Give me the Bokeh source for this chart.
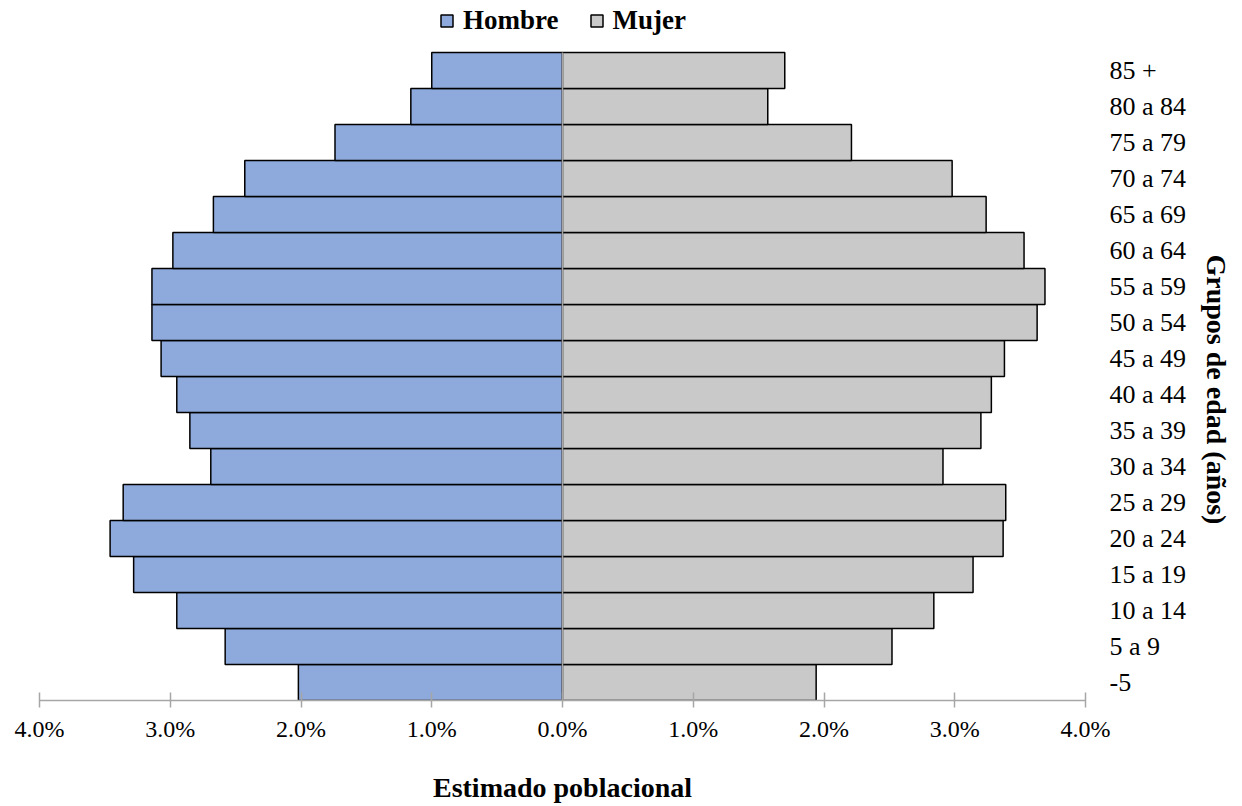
from bokeh.plotting import figure
from bokeh.models import (Range1d, LinearAxis, FixedTicker, CustomJSTickFormatter,
                          Legend, LegendItem, ColumnDataSource, Title)
from bokeh.embed import file_html
from bokeh.resources import INLINE

groups = ["-5", "5 a 9", "10 a 14", "15 a 19", "20 a 24", "25 a 29", "30 a 34",
          "35 a 39", "40 a 44", "45 a 49", "50 a 54", "55 a 59", "60 a 64",
          "65 a 69", "70 a 74", "75 a 79", "80 a 84", "85 +"]
hombre = [2.02, 2.58, 2.95, 3.28, 3.46, 3.36, 2.69, 2.85, 2.95, 3.07, 3.14,
          3.14, 2.98, 2.67, 2.43, 1.74, 1.16, 1.00]
mujer = [1.94, 2.52, 2.84, 3.14, 3.37, 3.39, 2.91, 3.20, 3.28, 3.38, 3.63,
         3.69, 3.53, 3.24, 2.98, 2.21, 1.57, 1.70]
x_ticks = [-4, -3, -2, -1, 0, 1, 2, 3, 4]

FONT = "Liberation Serif"

pos = list(range(len(groups)))
src = ColumnDataSource(dict(y=pos, h=[-v for v in hombre], m=mujer,
                            z=[0] * len(groups)))

W, H = 1242, 806
FL, FR, FT, FB = 39, 1085, 0, 700          # frame edges in pixels
row_px = (FB - 52) / len(groups)            # bars occupy 52..700
top_extra = (52 - FT) / row_px

p = figure(width=W, height=H, x_range=(-4, 4),
           y_range=Range1d(-0.5, len(groups) - 0.5 + top_extra),
           output_backend="svg", toolbar_location=None,
           x_axis_location=None, y_axis_location=None,
           min_border_left=FL, min_border_right=W - FR, min_border_top=FT,
           min_border_bottom=H - FB)
p.outline_line_color = None
p.grid.visible = False
p.background_fill_color = "white"

rh = p.hbar(y="y", left="h", right="z", height=1.0, source=src,
            fill_color="#8EA9DB", line_color="black", line_width=1.5)
rm = p.hbar(y="y", left="z", right="m", height=1.0, source=src,
            fill_color="#C9C9C9", line_color="black", line_width=1.5)

# zero line spanning the bars only
p.segment(x0=[0], x1=[0], y0=[pos[0] - 0.5], y1=[pos[-1] + 0.5],
          line_color="#A6A6A6", line_width=1.5)

xa = LinearAxis(ticker=FixedTicker(ticks=x_ticks),
                formatter=CustomJSTickFormatter(code="return Math.abs(tick).toFixed(1) + '%';"))
xa.axis_line_color = "#A6A6A6"
xa.axis_line_width = 1.5
xa.major_tick_line_color = "#A6A6A6"
xa.major_tick_line_width = 1.5
xa.major_tick_in = 8
xa.major_tick_out = 7
xa.minor_tick_line_color = None
xa.major_label_text_font = FONT
xa.major_label_text_font_size = "24px"
xa.major_label_text_color = "black"
xa.major_label_standoff = 8
xa.axis_label = "Estimado poblacional"
xa.axis_label_text_font = FONT
xa.axis_label_text_font_style = "bold"
xa.axis_label_text_font_size = "28px"
xa.axis_label_text_color = "black"
xa.axis_label_standoff = 27
p.add_layout(xa, "below")

ya = LinearAxis(ticker=FixedTicker(ticks=pos),
                major_label_overrides={i: g for i, g in zip(pos, groups)})
ya.axis_line_color = None
ya.major_tick_line_color = None
ya.minor_tick_line_color = None
ya.major_label_text_font = FONT
ya.major_label_text_font_size = "26px"
ya.major_label_text_color = "black"
ya.major_label_standoff = 18
p.add_layout(ya, "right")

ytitle = Title(text="Grupos de edad (años)", align="left", offset=254,
               vertical_align="top",
               text_font=FONT, text_font_style="bold", text_font_size="28px",
               text_color="black", standoff=18)
p.add_layout(ytitle, "right")

legend = Legend(items=[LegendItem(label="Hombre", renderers=[rh]),
                       LegendItem(label="Mujer", renderers=[rm])],
                orientation="horizontal", location=(400, 664),
                label_text_font=FONT, label_text_font_style="bold",
                label_text_font_size="27px", label_text_color="black",
                glyph_width=15, glyph_height=15, label_standoff=9, spacing=30,
                padding=0, margin=0, border_line_color=None,
                background_fill_alpha=0)
p.add_layout(legend, "center")

open("out.html", "w").write(file_html(p, INLINE))
